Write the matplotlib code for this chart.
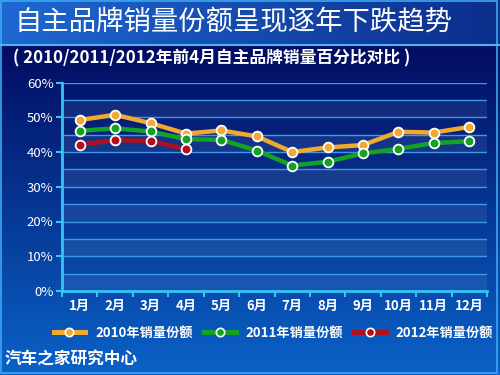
import numpy as np
import matplotlib as mpl
import matplotlib.pyplot as plt
from matplotlib.lines import Line2D
from matplotlib.patches import Rectangle

mpl.rcParams["font.family"] = ["Noto Sans CJK SC", "DejaVu Sans"]

TITLE = "自主品牌销量份额呈现逐年下跌趋势"
SUBTITLE = "( 2010/2011/2012年前4月自主品牌销量百分比对比 )"
FOOTER = "汽车之家研究中心"

MONTHS = ["1月", "2月", "3月", "4月", "5月", "6月",
          "7月", "8月", "9月", "10月", "11月", "12月"]

SHARE_2010 = [49.2, 50.7, 48.3, 45.3, 46.2, 44.5, 40.0, 41.3, 42.0, 45.8, 45.6, 47.2]
SHARE_2011 = [46.1, 46.8, 45.9, 43.7, 43.5, 40.4, 36.1, 37.2, 39.6, 40.9, 42.6, 43.1]
SHARE_2012 = [42.1, 43.4, 43.2, 40.8]

SERIES_NAMES = ["2010年销量份额", "2011年销量份额", "2012年销量份额"]
COLORS = ["#f2a930", "#14a224", "#b0101e"]

Y_TICKS = [0, 10, 20, 30, 40, 50, 60]
AXIS_COLOR = "#35c4f4"
GRID_COLOR = "#3a9ae6"


def main():
    fig = plt.figure(figsize=(5, 3.75), dpi=100)

    # background gradient over the whole slide
    bg = fig.add_axes([0, 0, 1, 1], zorder=-10)
    bg.set_xlim(0, 500)
    bg.set_ylim(375, 0)
    bg.axis("off")

    top = np.array([2, 12, 96]) / 255
    bottom = np.array([10, 98, 200]) / 255
    t = np.linspace(0, 1, 200)[:, None, None]
    grad = top + (bottom - top) * t
    grad = np.repeat(grad, 2, axis=1)
    bg.imshow(grad, extent=[0, 500, 375, 44], aspect="auto")

    left_c = np.array([30, 104, 210]) / 255
    right_c = np.array([12, 46, 140]) / 255
    s = np.linspace(0, 1, 200)[None, :, None]
    band = left_c + (right_c - left_c) * s
    band = np.repeat(band, 2, axis=0)
    bg.imshow(band, extent=[0, 500, 44, 0], aspect="auto")

    bg.plot([0, 500], [44.5, 44.5], color="#4ab4f4", linewidth=1.5)
    bg.add_patch(Rectangle((0.5, 0.5), 496.5, 372.5, fill=False,
                           edgecolor="#3aa8f0", linewidth=1.2))

    bg.text(15, 22, TITLE, color="white", fontsize=19.7,
            ha="left", va="center")
    bg.text(13, 58, SUBTITLE, color="white", fontsize=12.1,
            fontweight="bold", ha="left", va="center")
    bg.text(5, 360, FOOTER, color="white", fontsize=12,
            fontweight="bold", ha="left", va="center")

    # main chart
    ax = fig.add_axes([0.124, 0.224, 0.850, 0.556])
    ax.patch.set_alpha(0)

    x = np.arange(len(MONTHS)) + 0.5
    ax.set_xlim(0, 12)
    ax.set_ylim(0, 60)

    for lo in range(0, 60, 10):
        ax.axhspan(lo, lo + 5, color="white", alpha=0.07, linewidth=0, zorder=0)
    for yv in range(5, 61, 5):
        ax.axhline(yv, color=GRID_COLOR, linewidth=1.0, zorder=1)

    series = [SHARE_2010, SHARE_2011, SHARE_2012]
    for vals, col, name in zip(series, COLORS, SERIES_NAMES):
        ax.plot(x[:len(vals)], vals, color=col, linewidth=3.2,
                marker="o", markersize=7, markerfacecolor=col,
                markeredgecolor="white", markeredgewidth=1.3,
                zorder=3, label=name)

    ax.set_yticks(Y_TICKS)
    ax.set_yticklabels([f"{v}%" for v in Y_TICKS])
    ax.set_xticks(np.arange(0, 13))
    ax.set_xticklabels([])
    ax.set_xticks(x, minor=True)
    ax.set_xticklabels(MONTHS, minor=True)

    ax.tick_params(axis="y", colors=AXIS_COLOR, labelcolor="white",
                   labelsize=9.5, length=4, width=1.5, pad=2)
    ax.tick_params(axis="x", which="major", colors=AXIS_COLOR,
                   length=4, width=1.5)
    ax.tick_params(axis="x", which="minor", length=0, labelcolor="white",
                   labelsize=9.5, pad=6)
    for lab in ax.get_xticklabels(minor=True):
        lab.set_fontweight("bold")

    for side in ["top", "right"]:
        ax.spines[side].set_visible(False)
    for side in ["left", "bottom"]:
        ax.spines[side].set_color(AXIS_COLOR)
        ax.spines[side].set_linewidth(2)

    handles = [
        Line2D([0], [0], color=c, linewidth=3.6, marker="o", markersize=6,
               markerfacecolor=c, markeredgecolor="white",
               markeredgewidth=1.2, label=n)
        for c, n in zip(COLORS, SERIES_NAMES)
    ]
    leg = fig.legend(handles=handles, loc="center", ncol=3,
                     bbox_to_anchor=(0.547, 0.112), frameon=False,
                     fontsize=9.5, handlelength=2.4, columnspacing=0.85,
                     handletextpad=0.75, borderpad=0, borderaxespad=0)
    for txt in leg.get_texts():
        txt.set_color("white")
        txt.set_fontweight("bold")

    fig.savefig("out.png", dpi=100)
    plt.close(fig)


if __name__ == "__main__":
    main()
